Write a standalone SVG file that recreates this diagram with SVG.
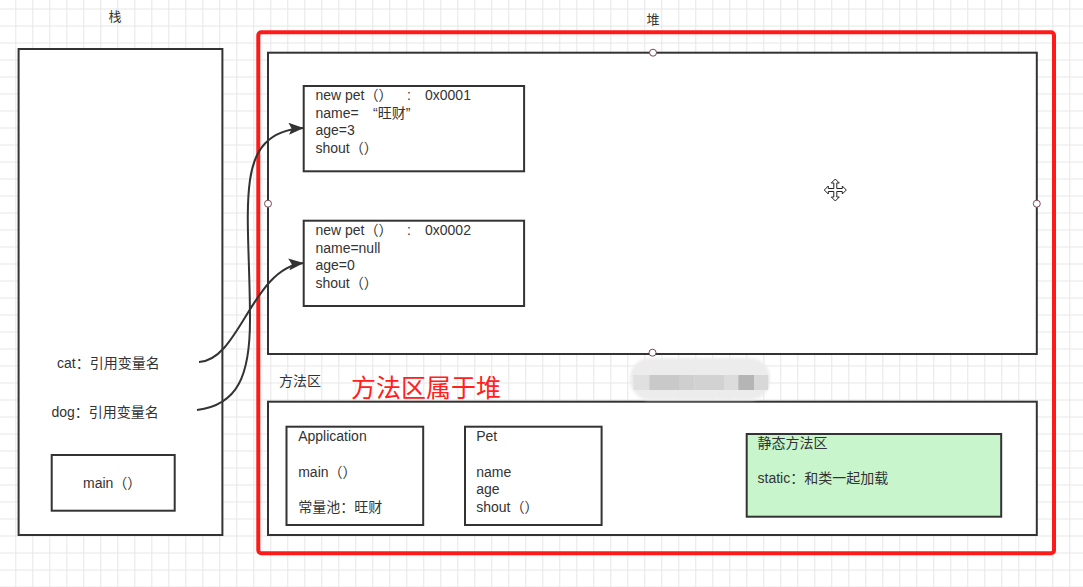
<svg xmlns="http://www.w3.org/2000/svg" width="1083" height="587" viewBox="0 0 1083 587">
<style>
text{font-family:"Liberation Sans","Noto Sans CJK SC",sans-serif;font-size:14px;fill:#333}
.box{fill:#fff;stroke:#333;stroke-width:2}
.lbl{font-size:13px}
.pt{fill:#fff;stroke:#7a4a55;stroke-width:1}
.conn{fill:none;stroke:#333;stroke-width:2}
</style>
<defs>
<pattern id="grid" patternUnits="userSpaceOnUse" x="15.3" y="8.5" width="17" height="17">
<path d="M0 0.5H17M0.5 0V17" stroke="#e6e6e6" stroke-width="1" fill="none"/>
</pattern>
<marker id="arrow" markerUnits="userSpaceOnUse" markerWidth="16" markerHeight="12" refX="15" refY="6" orient="auto">
<path d="M0 0L15 6L0 12L3 6Z" fill="#333"/>
</marker>
<filter id="soft" x="-20%" y="-50%" width="140%" height="200%"><feGaussianBlur stdDeviation="1.5"/></filter>
</defs>
<rect width="1083" height="587" fill="#fff"/>
<rect width="1083" height="587" fill="url(#grid)"/>

<g id="stack-label"><text class="lbl" x="115" y="21" text-anchor="middle">栈</text></g>
<g id="heap-label"><text class="lbl" x="653" y="24" text-anchor="middle">堆</text></g>

<g id="stack">
<rect class="box" x="18.6" y="49" width="203.8" height="486"/>
<text x="57" y="368">cat：引用变量名</text>
<text x="51.5" y="417">dog：引用变量名</text>
</g>
<g id="main-frame">
<rect class="box" x="51.7" y="455" width="123" height="55.7"/>
<text x="83" y="488">main（）</text>
</g>

<g id="heap-area">
<rect x="258.3" y="32.3" width="795.7" height="521" rx="3" fill="none" stroke="#ff1a1a" stroke-width="4"/>
</g>
<g id="heap">
<rect class="box" x="268" y="52.7" width="768.8" height="301.3"/>
</g>
<g id="obj1">
<rect class="box" x="303.7" y="86" width="220.4" height="85.3"/>
<text x="315.4" y="100">new pet（）<tspan x="407">:</tspan><tspan x="425">0x0001</tspan></text>
<text x="315.4" y="118">name= <tspan x="373">“旺财”</tspan></text>
<text x="315.4" y="135">age=3</text>
<text x="315.4" y="153">shout（）</text>
</g>
<g id="obj2">
<rect class="box" x="303.7" y="220.7" width="220.4" height="85.3"/>
<text x="315.4" y="235">new pet（）<tspan x="407">:</tspan><tspan x="425">0x0002</tspan></text>
<text x="315.4" y="253">name=null</text>
<text x="315.4" y="270">age=0</text>
<text x="315.4" y="288">shout（）</text>
</g>

<g id="method-area-label">
<text x="279" y="386">方法区</text>
<text x="351" y="397" style="font-size:25px;fill:#ff2020">方法区属于堆</text>
</g>
<g id="method-area">
<rect class="box" x="268" y="401.7" width="768.8" height="133.3"/>
</g>
<g id="application">
<rect class="box" x="286.5" y="426.7" width="136.7" height="98.3"/>
<text x="298.2" y="441">Application</text>
<text x="298.2" y="477">main（）</text>
<text x="298.2" y="512">常量池：旺财</text>
</g>
<g id="pet">
<rect class="box" x="465" y="426.7" width="136.6" height="98.3"/>
<text x="476.2" y="441">Pet</text>
<text x="476.2" y="477">name</text>
<text x="476.2" y="494">age</text>
<text x="476.2" y="512">shout（）</text>
</g>
<g id="static-area">
<rect x="746.7" y="434" width="254.5" height="82.7" fill="#c8f5cc" stroke="#333" stroke-width="2"/>
<text x="757.5" y="448">静态方法区</text>
<text x="757.5" y="483">static：和类一起加载</text>
</g>

<g id="blur-patch">
<rect x="630" y="358" width="140" height="42" rx="20" fill="#ececec" filter="url(#soft)"/>
<rect x="633.3" y="375" width="16" height="15" fill="#e0e0e0"/>
<rect x="649.3" y="375" width="29.7" height="15" fill="#c9c9c9"/>
<rect x="679" y="375" width="15.3" height="15" fill="#cfcfcf"/>
<rect x="694.3" y="375" width="29.7" height="15" fill="#d2d2d2"/>
<rect x="724" y="375" width="14.3" height="15" fill="#dcdcdc"/>
<rect x="738.3" y="375" width="15.7" height="15" fill="#b5b5b5"/>
<rect x="754" y="375" width="14.3" height="15" fill="#d8d8d8"/>
</g>

<g id="connectors">
<path class="conn" d="M199 362C240 360 252 268 303.7 263" marker-end="url(#arrow)"/>
<path class="conn" d="M197 410C238 405 250 375 250 320C250 260 245 215 250 180C254 150 268 130 303.7 128" marker-end="url(#arrow)"/>
</g>

<g id="handles">
<circle class="pt" cx="268" cy="203.7" r="3.5"/>
<circle class="pt" cx="653" cy="52.7" r="3.5"/>
<circle class="pt" cx="1036.8" cy="203.7" r="3.5"/>
<circle class="pt" cx="652.5" cy="352.7" r="3.5"/>
</g>

<g id="move-cursor" transform="translate(835.3 190)">
<path d="M0 -11L4 -7L1.5 -7L1.5 -1.5L7 -1.5L7 -4L11 0L7 4L7 1.5L1.5 1.5L1.5 7L4 7L0 11L-4 7L-1.5 7L-1.5 1.5L-7 1.5L-7 4L-11 0L-7 -4L-7 -1.5L-1.5 -1.5L-1.5 -7L-4 -7Z" fill="#fff" stroke="#222" stroke-width="1"/>
</g>
</svg>
